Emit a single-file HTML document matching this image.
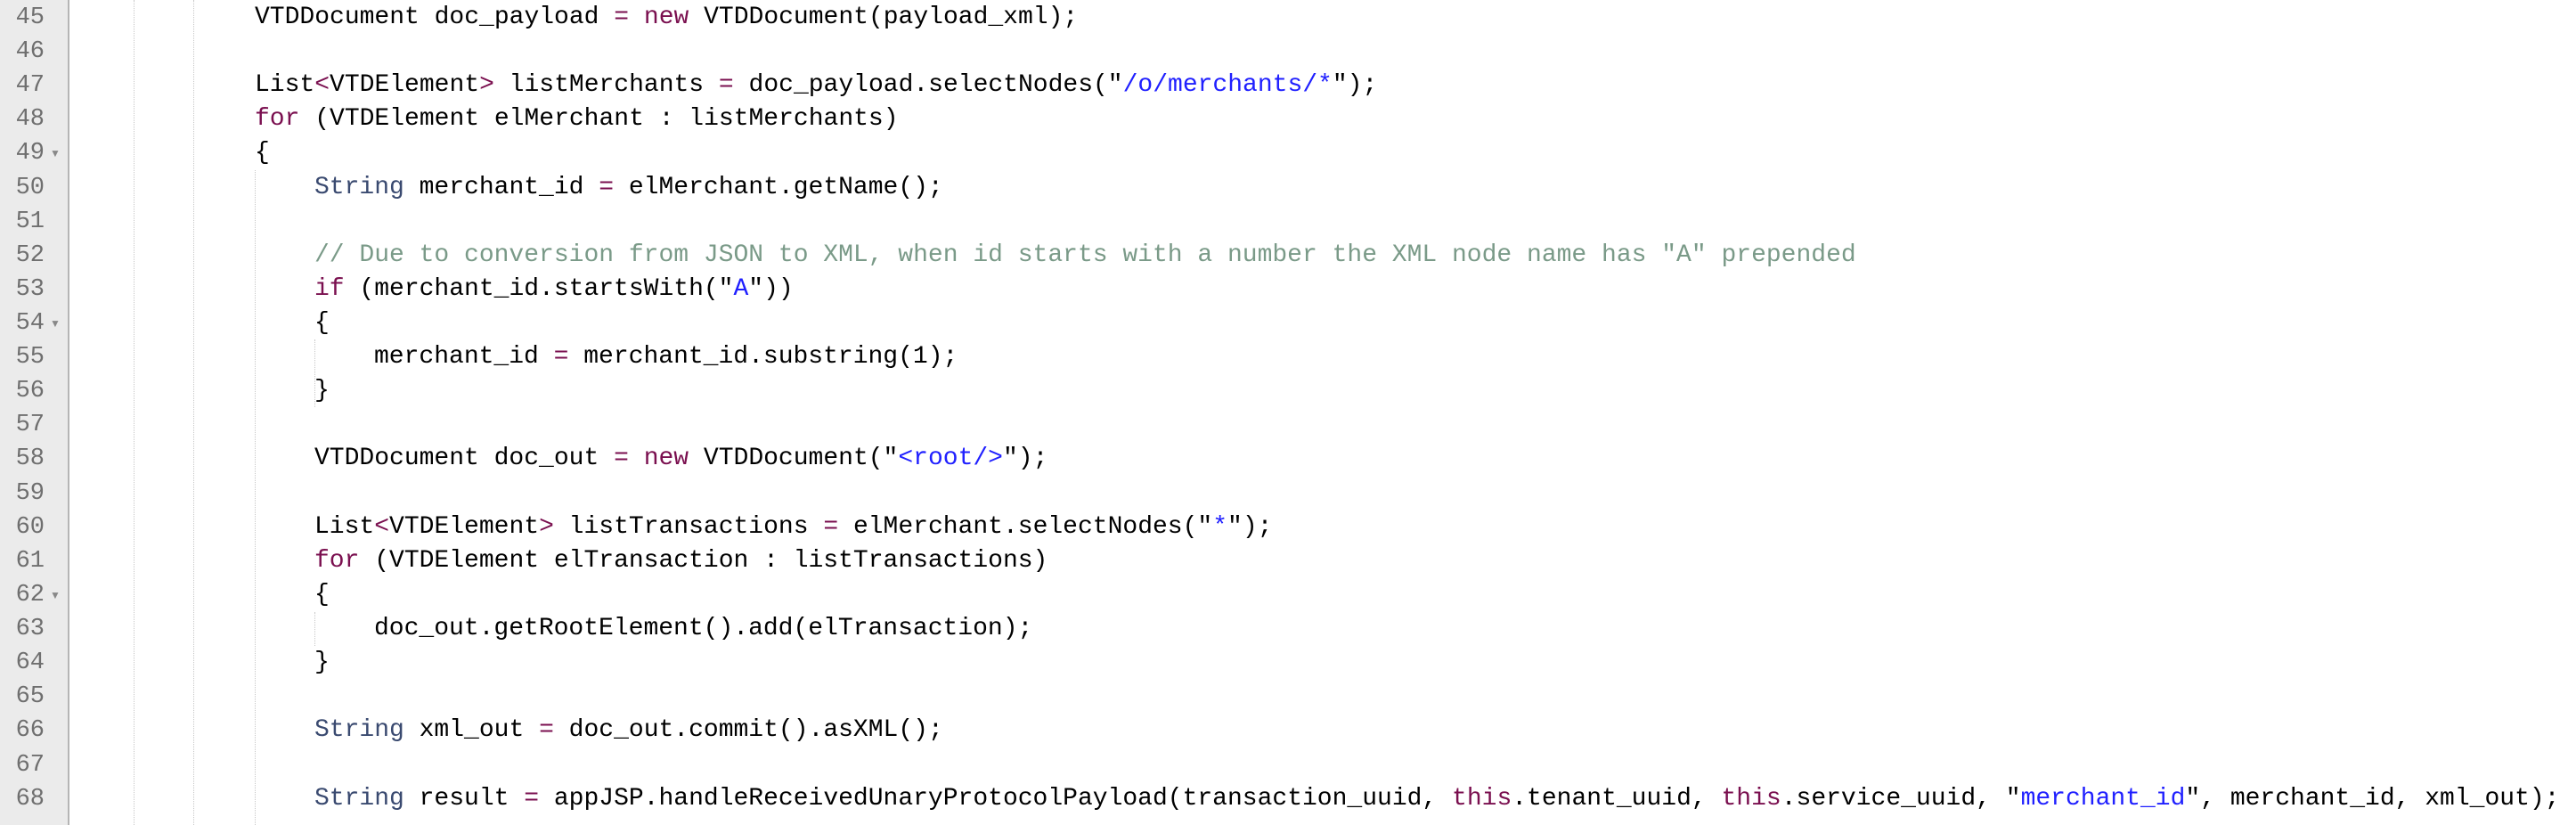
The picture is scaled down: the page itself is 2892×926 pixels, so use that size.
<!DOCTYPE html>
<html><head><meta charset="utf-8"><style>
html,body{margin:0;padding:0;background:#fff;width:2892px;height:926px;overflow:hidden;position:relative;}
.g{position:absolute;left:0;top:0;width:76px;height:926px;background:#ebebeb;border-right:2px solid #b5b5b5;}
.n{position:absolute;left:0;width:50px;text-align:right;font-family:"Liberation Mono",monospace;font-size:27px;color:#6f6f6f;height:38px;line-height:38px;}
.f{position:absolute;left:56px;font-size:12px;color:#888;line-height:38px;height:38px;}
.l{position:absolute;left:286px;font-family:"Liberation Mono",monospace;font-size:28px;color:#000;white-space:pre;height:38px;line-height:38px;}
.k{color:#7a0f4f}.t{color:#3a4a70}.s{color:#2020ff}.c{color:#7a9a88}
.v{position:absolute;width:0;border-left:1px dotted #c8c8c8;}
</style></head><body>
<div class="g"></div>
<div class="v" style="left:150px;top:0;height:926px"></div>
<div class="v" style="left:217px;top:0;height:926px"></div>
<div class="v" style="left:286px;top:191px;height:735px"></div>
<div class="v" style="left:353px;top:381px;height:76px"></div>
<div class="v" style="left:353px;top:687px;height:38px"></div>

<div class="n" style="top:1px">45</div>
<div class="n" style="top:39px">46</div>
<div class="n" style="top:77px">47</div>
<div class="n" style="top:115px">48</div>
<div class="n" style="top:153px">49</div><div class="f" style="top:153px">▼</div>
<div class="n" style="top:192px">50</div>
<div class="n" style="top:230px">51</div>
<div class="n" style="top:268px">52</div>
<div class="n" style="top:306px">53</div>
<div class="n" style="top:344px">54</div><div class="f" style="top:344px">▼</div>
<div class="n" style="top:382px">55</div>
<div class="n" style="top:420px">56</div>
<div class="n" style="top:458px">57</div>
<div class="n" style="top:496px">58</div>
<div class="n" style="top:535px">59</div>
<div class="n" style="top:573px">60</div>
<div class="n" style="top:611px">61</div>
<div class="n" style="top:649px">62</div><div class="f" style="top:649px">▼</div>
<div class="n" style="top:687px">63</div>
<div class="n" style="top:725px">64</div>
<div class="n" style="top:763px">65</div>
<div class="n" style="top:801px">66</div>
<div class="n" style="top:840px">67</div>
<div class="n" style="top:878px">68</div>

<div class="l" style="top:1px">VTDDocument doc_payload <span class="k">=</span> <span class="k">new</span> VTDDocument(payload_xml);</div>
<div class="l" style="top:77px">List<span class="k">&lt;</span>VTDElement<span class="k">&gt;</span> listMerchants <span class="k">=</span> doc_payload.selectNodes("<span class="s">/o/merchants/*</span>");</div>
<div class="l" style="top:115px"><span class="k">for</span> (VTDElement elMerchant : listMerchants)</div>
<div class="l" style="top:153px">{</div>
<div class="l" style="top:192px;left:353px"><span class="t">String</span> merchant_id <span class="k">=</span> elMerchant.getName();</div>
<div class="l" style="top:268px;left:353px"><span class="c">// Due to conversion from JSON to XML, when id starts with a number the XML node name has "A" prepended</span></div>
<div class="l" style="top:306px;left:353px"><span class="k">if</span> (merchant_id.startsWith("<span class="s">A</span>"))</div>
<div class="l" style="top:344px;left:353px">{</div>
<div class="l" style="top:382px;left:420px">merchant_id <span class="k">=</span> merchant_id.substring(1);</div>
<div class="l" style="top:420px;left:353px">}</div>
<div class="l" style="top:496px;left:353px">VTDDocument doc_out <span class="k">=</span> <span class="k">new</span> VTDDocument("<span class="s">&lt;root/&gt;</span>");</div>
<div class="l" style="top:573px;left:353px">List<span class="k">&lt;</span>VTDElement<span class="k">&gt;</span> listTransactions <span class="k">=</span> elMerchant.selectNodes("<span class="s">*</span>");</div>
<div class="l" style="top:611px;left:353px"><span class="k">for</span> (VTDElement elTransaction : listTransactions)</div>
<div class="l" style="top:649px;left:353px">{</div>
<div class="l" style="top:687px;left:420px">doc_out.getRootElement().add(elTransaction);</div>
<div class="l" style="top:725px;left:353px">}</div>
<div class="l" style="top:801px;left:353px"><span class="t">String</span> xml_out <span class="k">=</span> doc_out.commit().asXML();</div>
<div class="l" style="top:878px;left:353px"><span class="t">String</span> result <span class="k">=</span> appJSP.handleReceivedUnaryProtocolPayload(transaction_uuid, <span class="k">this</span>.tenant_uuid, <span class="k">this</span>.service_uuid, "<span class="s">merchant_id</span>", merchant_id, xml_out);</div>
</body></html>
